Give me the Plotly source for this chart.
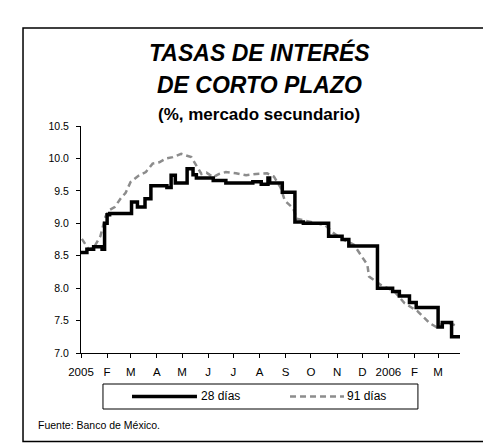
import plotly.graph_objects as go

FONT = "Liberation Sans, Arial, sans-serif"

# 28-day rate (step series)
dates_28 = [
    "2005-01-01", "2005-01-08", "2005-01-16", "2005-01-26", "2005-01-29",
    "2005-02-01", "2005-02-04", "2005-03-02", "2005-03-09", "2005-03-18",
    "2005-03-25", "2005-04-13", "2005-04-18", "2005-04-23", "2005-05-07",
    "2005-05-14", "2005-05-18", "2005-06-07", "2005-06-22", "2005-07-24",
    "2005-08-03", "2005-08-11", "2005-08-13", "2005-08-28", "2005-09-12",
    "2005-09-22", "2005-10-22", "2005-11-07", "2005-11-15", "2005-12-19",
    "2006-01-06", "2006-01-14", "2006-01-26", "2006-02-03", "2006-03-01",
    "2006-03-06", "2006-03-17", "2006-03-27",
]
rate_28 = [
    8.55, 8.60, 8.64, 8.60, 9.00,
    9.13, 9.15, 9.33, 9.25, 9.38,
    9.58, 9.55, 9.74, 9.62, 9.84,
    9.75, 9.70, 9.66, 9.62, 9.64,
    9.60, 9.70, 9.62, 9.48, 9.02,
    9.00, 8.80, 8.75, 8.65, 8.00,
    7.95, 7.88, 7.78, 7.70, 7.40,
    7.47, 7.25, 7.25,
]

# 91-day rate
dates_91 = [
    "2005-01-02", "2005-01-10", "2005-01-16", "2005-01-24", "2005-01-30",
    "2005-02-03", "2005-02-10", "2005-02-17", "2005-02-23", "2005-03-01",
    "2005-03-11", "2005-03-19", "2005-03-27", "2005-04-04", "2005-04-12",
    "2005-04-20", "2005-04-30", "2005-05-06", "2005-05-12", "2005-05-18",
    "2005-05-24", "2005-05-30", "2005-06-07", "2005-06-14", "2005-06-22",
    "2005-07-04", "2005-07-16", "2005-07-28", "2005-08-10", "2005-08-18",
    "2005-08-26", "2005-08-31", "2005-09-10", "2005-09-14", "2005-09-30",
    "2005-10-18", "2005-10-26", "2005-11-05", "2005-11-21", "2005-12-07",
    "2005-12-09", "2005-12-23", "2006-01-08", "2006-01-20", "2006-02-05",
    "2006-02-19", "2006-02-27", "2006-03-10", "2006-03-25",
]
rate_91 = [
    8.76, 8.60, 8.62, 8.80, 9.10,
    9.20, 9.25, 9.38, 9.47, 9.64,
    9.74, 9.79, 9.92, 9.94, 10.00,
    10.02, 10.07, 10.05, 10.02, 9.89,
    9.76, 9.78, 9.71, 9.76, 9.79,
    9.77, 9.74, 9.76, 9.77, 9.72,
    9.55, 9.35, 9.23, 9.07, 9.02,
    8.97, 8.87, 8.77, 8.67, 8.36,
    8.18, 8.05, 7.95, 7.77, 7.64,
    7.46, 7.40, 7.48, 7.41,
]

tick_dates = [
    "2005-01-01", "2005-02-01", "2005-03-01", "2005-04-01", "2005-05-01",
    "2005-06-01", "2005-07-01", "2005-08-01", "2005-09-01", "2005-10-01",
    "2005-11-01", "2005-12-01", "2006-01-01", "2006-02-01", "2006-03-01",
]
tick_labels = ["2005", "F", "M", "A", "M", "J", "J", "A", "S", "O", "N", "D", "2006", "F", "M"]
y_ticks = [7.0, 7.5, 8.0, 8.5, 9.0, 9.5, 10.0, 10.5]

fig = go.Figure()
fig.add_trace(go.Scatter(
    x=dates_91, y=rate_91, mode="lines", name="91 días",
    line=dict(color="#8c8c8c", width=2.5, dash="6px,4px"),
))
fig.add_trace(go.Scatter(
    x=dates_28, y=rate_28, mode="lines", name="28 días",
    line=dict(color="black", width=3.5, shape="hv"),
))

# page body adds an 8px margin, so the figure is 8px smaller
fig.update_layout(
    width=483, height=437,
    margin=dict(l=73, r=31, t=118, b=92),
    paper_bgcolor="white", plot_bgcolor="white",
    font=dict(family=FONT, color="black", size=11),
    showlegend=False,
)
fig.update_xaxes(
    range=["2005-01-01", "2006-03-27"],
    tickvals=tick_dates, ticktext=tick_labels,
    showgrid=False, zeroline=False,
    showline=True, linecolor="black", linewidth=1,
    ticks="outside", ticklen=4, tickcolor="black",
    ticklabelstandoff=4, tickfont=dict(size=11.5),
)
fig.update_yaxes(
    range=[7.0, 10.5],
    tickvals=y_ticks, ticktext=[f"{v:.1f}" for v in y_ticks],
    showgrid=False, zeroline=False,
    showline=True, linecolor="black", linewidth=1,
    ticks="outside", ticklen=4, tickcolor="black",
    ticklabelstandoff=5, tickfont=dict(size=10.5),
)

# outer frame (open on the right, runs off the page) and legend box
fig.add_shape(type="rect", xref="paper", yref="paper",
              x0=-0.153, x1=1.3, y0=-0.39, y1=1.432,
              line=dict(color="black", width=1.5))
fig.add_shape(type="rect", xref="paper", yref="paper",
              x0=0.058, x1=0.889, y0=-0.2467, y1=-0.1366,
              line=dict(color="black", width=1))
fig.add_shape(type="line", xref="paper", yref="paper",
              x0=0.1346, x1=0.306, y0=-0.1916, y1=-0.1916,
              line=dict(color="black", width=3.5))
fig.add_shape(type="line", xref="paper", yref="paper",
              x0=0.5515, x1=0.6939, y0=-0.1916, y1=-0.1916,
              line=dict(color="#8c8c8c", width=2.5, dash="6px,4px"))

annotations = [
    dict(text="<b><i>TASAS DE INTERÉS</i></b>", x=0.47, y=1.3216, size=23),
    dict(text="<b><i>DE CORTO PLAZO</i></b>", x=0.47, y=1.1806, size=23),
    dict(text="<b>(%, mercado secundario)</b>", x=0.47, y=1.0485, size=17),
]
for a in annotations:
    fig.add_annotation(text=a["text"], x=a["x"], y=a["y"], xref="paper", yref="paper",
                       xanchor="center", yanchor="middle", showarrow=False,
                       font=dict(size=a["size"], family=FONT, color="black"))

fig.add_annotation(text="28 días", x=0.311, y=-0.1916, xref="paper", yref="paper",
                   xanchor="left", yanchor="middle", showarrow=False, font=dict(size=12))
fig.add_annotation(text="91 días", x=0.697, y=-0.1916, xref="paper", yref="paper",
                   xanchor="left", yanchor="middle", showarrow=False, font=dict(size=12))
fig.add_annotation(text="Fuente: Banco de México.", x=-0.1187, y=-0.317,
                   xref="paper", yref="paper", xanchor="left", yanchor="middle",
                   showarrow=False, font=dict(size=10.5))

fig.write_html("out.html")
